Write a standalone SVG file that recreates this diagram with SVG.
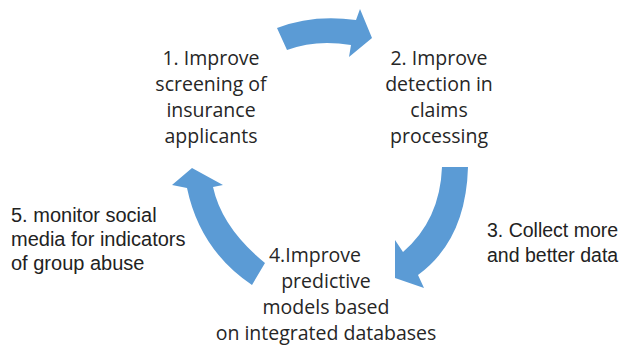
<svg xmlns="http://www.w3.org/2000/svg" width="625" height="345" viewBox="0 0 625 345">
<style>
.arrow{fill:#5B9BD5;stroke:none}
.cal{font-family:"Open Sans","Liberation Sans",sans-serif;font-size:19.5px;fill:#262626;text-anchor:middle}
.ari{font-family:"Liberation Sans",Arial,sans-serif;font-size:19.5px;fill:#222222}
.big{font-size:20px}
</style>
<rect width="625" height="345" fill="#ffffff"/>
<g id="connectors">
<path class="arrow" d="M277,28 Q313,14 356,20 L360,9 L372,38 L349,57 L351,45 Q316,39 287,50 Z"/>
<path class="arrow" d="M442,167 L468,167 Q466,240 418,275 L424,288 L395,278 L395,240 L403,252 Q440,220 442,167 Z"/>
<path class="arrow" d="M252,285 L265,263 Q222,228 213,187 L223,185 L192,168 L172,185 L187,188 Q200,250 252,285 Z"/>
</g>
<g id="node1">
<text class="cal" x="211" y="65">1. Improve</text>
<text class="cal" x="211" y="91">screening of</text>
<text class="cal" x="211" y="117">insurance</text>
<text class="cal" x="211" y="143">applicants</text>
</g>
<g id="node2">
<text class="cal" x="439" y="65">2. Improve</text>
<text class="cal" x="439" y="91">detection in</text>
<text class="cal" x="439" y="117">claims</text>
<text class="cal" x="439" y="143">processing</text>
</g>
<g id="node3">
<text class="ari" x="487" y="237">3. Collect more</text>
<text class="ari" x="487" y="262">and better data</text>
</g>
<g id="node4">
<text class="cal" x="315" y="262">4.Improve</text>
<text class="cal" x="326" y="288">predictive</text>
<text class="cal" x="326" y="314">models based</text>
<text class="cal" x="326" y="340">on integrated databases</text>
</g>
<g id="node5">
<text class="ari big" x="11" y="222">5. monitor social</text>
<text class="ari big" x="11" y="246">media for indicators</text>
<text class="ari big" x="11" y="270">of group abuse</text>
</g>
</svg>
